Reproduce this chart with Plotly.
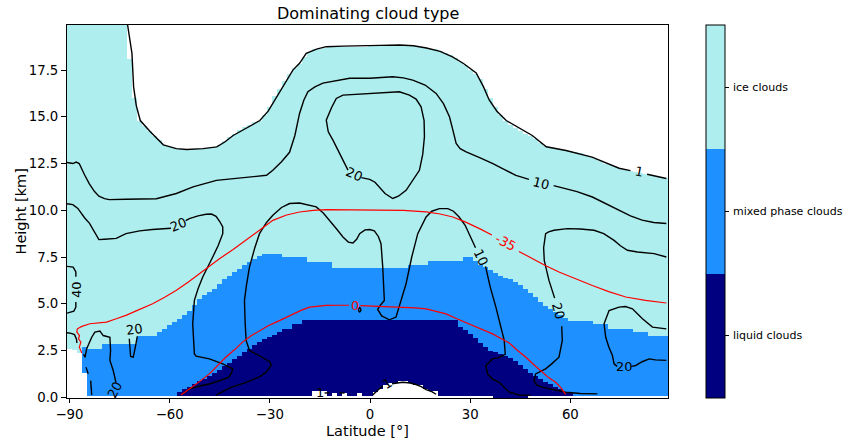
import plotly.graph_objects as go

# ---------------------------------------------------------------------------
# Grid: 1.5 degree latitude columns, centres -90 ... 88.5
# ---------------------------------------------------------------------------
lat_centres = [-90 + 1.5 * i for i in range(120)]
lat_edges = [-90.75 + 1.5 * k for k in range(121)]
Y_BOTTOM, Y_TOP = -0.04, 19.91

# Per-column layer boundaries [km]
# floor: below it no dominating type; liq_top / mix_top / ice_top: upper limits
floor = [
    2.6, 2.55, 2.35, 1.29, 0.09, 0.09, 0.09, 0.09, 0.09, 0.09,        # -90 .. -76.5
    0.09, 0.09, 0.09, 0.09, 0.09, 0.09, 0.09, 0.09, 0.09, 0.09,       # -75 .. -61.5
    0.09, 0.09, 0.09, 0.09, 0.09, 0.09, 0.09, 0.09, 0.09, 0.09,       # -60 .. -46.5
    0.09, 0.09, 0.09, 0.09, 0.09, 0.09, 0.09, 0.09, 0.09, 0.09,       # -45 .. -31.5
    0.09, 0.09, 0.09, 0.09, 0.09, 0.09, 0.09, 0.09, 0.09, 0.32,       # -30 .. -16.5
    0.32, 0.32, 0.09, 0.25, 0.09, 0.25, 0.09, 0.09, 0.25, 0.09,       # -15 .. -1.5
    0.09, 0.27, 0.45, 0.63, 0.75, 0.75, 0.89, 0.89, 0.75, 0.63,       # 0 .. 13.5
    0.63, 0.45, 0.36, 0.36, 0.09, 0.09, 0.09, 0.09, 0.09, 0.09,       # 15 .. 28.5
    0.09, 0.09, 0.09, 0.09, 0.09, -0.04, -0.04, -0.04, -0.04, -0.04,  # 30 .. 43.5
    -0.04, -0.04, 0.09, 0.09, 0.09, 0.09, 0.09, 0.09, 0.09, 0.09,     # 45 .. 58.5
    0.09, 0.09, 0.09, 0.09, 0.09, 0.09, 0.09, 0.09, 0.09, 0.09,       # 60 .. 73.5
    0.09, 0.09, 0.09, 0.09, 0.09, 0.09, 0.09, 0.09, 0.09, 0.09,       # 75 .. 88.5
]
liq_top = [
    0, 0, 0, 0, 0, 0, 0, 0, 0, 0,
    0, 0, 0, 0, 0, 0, 0, 0, 0, 0,
    0, 0, 0.3, 0.45, 0.55, 0.7, 0.85, 1.0, 1.15, 1.3,
    1.45, 1.65, 1.85, 2.05, 2.2, 2.4, 2.6, 2.8, 2.95, 3.1,
    3.2, 3.35, 3.5, 3.66, 3.66, 3.9, 3.9, 4.12, 4.12, 4.12,
    4.12, 4.12, 4.12, 4.12, 4.12, 4.12, 4.12, 4.12, 4.12, 4.12,
    4.12, 4.12, 4.12, 4.12, 4.12, 4.12, 4.12, 4.12, 4.12, 4.12,
    4.12, 4.12, 4.12, 4.12, 4.12, 4.12, 4.12, 4.12, 3.78, 3.6,
    3.4, 3.15, 2.9, 2.7, 2.5, 2.4, 2.3, 2.2, 2.1, 1.95,
    1.75, 1.5, 1.3, 1.15, 0.98, 0.8, 0.71, 0.55, 0.45, 0.3,
    0.25, 0, 0, 0, 0, 0, 0, 0, 0, 0,
    0, 0, 0, 0, 0, 0, 0, 0, 0, 0,
]
mix_top = [
    0, 0, 0, 2.68, 2.6, 2.6, 2.6, 2.85, 2.85, 2.85,
    2.85, 2.85, 2.85, 2.85, 3.3, 3.3, 3.3, 3.3, 3.48, 3.66,
    3.84, 4.02, 4.2, 4.38, 4.64, 4.91, 5.27, 5.45, 5.62, 5.8,
    6.07, 6.3, 6.5, 6.7, 6.88, 7.1, 7.25, 7.4, 7.55, 7.68,
    7.68, 7.68, 7.68, 7.5, 7.5, 7.5, 7.5, 7.5, 7.23, 7.23,
    7.23, 7.23, 7.23, 6.93, 6.93, 6.93, 6.93, 6.93, 6.93, 6.93,
    6.93, 6.93, 6.93, 6.93, 6.93, 6.93, 6.93, 6.93, 7.1, 7.1,
    7.1, 7.1, 7.29, 7.29, 7.29, 7.29, 7.29, 7.29, 7.29, 7.5,
    7.5, 7.3, 7.1, 6.95, 6.8, 6.65, 6.5, 6.4, 6.3, 6.15,
    5.98, 5.8, 5.6, 5.35, 5.1, 4.9, 4.7, 4.55, 4.38, 4.25,
    4.1, 4.1, 4.1, 4.1, 4.1, 3.9, 3.9, 3.9, 3.66, 3.66,
    3.66, 3.66, 3.66, 3.48, 3.48, 3.48, 3.3, 3.3, 3.3, 3.3,
]
ice_top = [
    19.91, 19.91, 19.91, 19.91, 19.91, 19.91, 19.91, 19.91, 19.91, 19.91,
    19.91, 19.91, 18.1, 16.0, 14.8, 14.5, 14.25, 14.0, 13.75, 13.5,
    13.4, 13.35, 13.3, 13.25, 13.25, 13.3, 13.3, 13.35, 13.35, 13.4,
    13.5, 13.7, 13.9, 14.1, 14.3, 14.45, 14.55, 14.7, 14.8, 15.1,
    15.5, 16.1, 16.5, 16.9, 17.3, 17.6, 17.85, 18.2, 18.45, 18.6,
    18.65, 18.7, 18.75, 18.75, 18.75, 18.75, 18.75, 18.75, 18.75, 18.75,
    18.8, 18.8, 18.8, 18.8, 18.8, 18.85, 18.85, 18.85, 18.85, 18.8,
    18.75, 18.7, 18.65, 18.6, 18.5, 18.4, 18.3, 18.15, 17.95, 17.75,
    17.5, 17.3, 17.0, 16.5, 16.0, 15.5, 15.1, 14.8, 14.55, 14.4,
    14.25, 14.1, 13.95, 13.8, 13.6, 13.45, 13.35, 13.3, 13.25, 13.2,
    13.15, 13.1, 13.05, 12.95, 12.85, 12.75, 12.65, 12.5, 12.4, 12.3,
    12.2, 12.15, 12.1, 12.05, 12.0, 11.95, 11.9, 11.85, 11.8, 11.75,
]

cloud_types = ["liquid clouds", "mixed phase clouds", "ice clouds"]
type_values = [1, 2, 3]
type_colours = ["#000080", "#1e90ff", "#afeeee"]

# ---------------------------------------------------------------------------
# Contour lines (lat, height); None breaks the line where a label sits
# ---------------------------------------------------------------------------
cf1_lat = [-72.6, -71.8, -71.3, -70.8, -70.0, -68.8, -65.8, -61.9, -58.0, -54.9, -50.0, -45.9,
           -43.5, -41.0, -37.0, -33.0, -30.5, -28.0, -25.5, -23.1, -21.1, -19.1, -16.0, -13.1,
           -8.0, -3.1, 3.0, 8.8, 13.0, 16.9, 21.0, 24.7, 28.0, 31.8, 34.0, 35.7, 38.0, 40.8,
           44.5, 48.6, 52.8, 58.7, 66.5, 74.6, 78.0, None, 83.0, 88.75]
cf1_h = [19.91, 19.0, 18.4, 16.6, 15.6, 14.8, 14.2, 13.5, 13.3, 13.25, 13.3, 13.39,
         13.65, 14.0, 14.4, 14.8, 15.3, 16.07, 16.8, 17.5, 17.86, 18.39, 18.62, 18.75,
         18.78, 18.78, 18.82, 18.84, 18.8, 18.68, 18.5, 18.2, 17.85, 17.35, 16.6, 15.9, 15.3, 14.8,
         14.4, 14.0, 13.4, 13.2, 12.84, 12.25, 12.12, None, 11.93, 11.7]

cf10_lat = [-90.75, -89.0, -88.0, -87.1, -85.5, -84.1, -82.5, -81.2, -79.5, -78.1, -73.1, -69.1,
            -64.0, -58.0, -53.0, -46.0, -40.0, -35.0, -31.0, -29.1, -26.5, -24.1, -22.5, -21.1,
            -19.8, -18.6, -16.5, -14.1, -10.0, -6.1, 0.0, 2.8, 6.8, 10.0, 12.8, 16.5, 19.8, 22.0,
            23.8, 24.8, 25.8, 27.0, 28.8, 33.0, 36.8, 40.0, 43.7, 47.6, None, 55.0, 58.0, 62.0,
            66.6, 70.6, 74.6, 78.0, 81.5, 85.0, 88.75]
cf10_h = [12.56, 12.5, 12.58, 12.5, 11.9, 11.43, 11.0, 10.75, 10.62, 10.57, 10.59, 10.6,
          10.62, 10.9, 11.25, 11.6, 11.7, 11.8, 11.87, 12.14, 12.6, 13.1, 14.0, 15.18,
          15.9, 16.34, 16.6, 16.8, 16.95, 17.06, 17.06, 17.08, 17.14, 17.08, 16.96, 16.7, 16.25, 15.7,
          15.0, 14.3, 13.57, 13.3, 13.12, 12.8, 12.5, 12.2, 11.87, 11.65, None, 11.32, 11.2, 11.0,
          10.71, 10.35, 10.0, 9.7, 9.47, 9.35, 9.29]

cf20_top_lat = [-2.6, -0.1, 1.5, 2.8, 4.5, 6.8, 8.5, 10.8, 12.8, 14.8, 15.8, 16.3, 16.2, 15.3,
                13.8, 11.8, 8.8, 5.0, 2.8, -2.0, -8.1, -10.1, -11.5, -13.1, -12.5, -11.1, -9.5,
                -7.1, -6.6]
cf20_top_h = [11.75, 11.65, 11.5, 11.25, 10.9, 10.63, 10.75, 11.07, 11.6, 12.14, 13.0, 13.93,
              14.8, 15.53, 15.95, 16.16, 16.34, 16.3, 16.25, 16.2, 16.16, 15.98, 15.5, 14.82,
              14.2, 13.75, 13.2, 12.32, 12.15]

cf20_west_lat = [-90.75, -89.0, -87.5, -85.5, -84.0, -82.5, -81.2, -79.5, -78.1, -76.0, -73.1,
                 -69.0, -65.2, -62.0, -60.1, -59.6, None, -55.2, -54.1, -51.5, -49.1, -47.5,
                 -46.1, -45.0, -44.1, -44.1, -45.5, -47.1, -50.1, -51.5, -52.6, -53.1, -52.8,
                 -52.6, -52.1, -48.1, -44.1, -42.0, -41.1, -41.6, -42.3, -44.0, -46.1, -48.1,
                 -51.0, -54.1, -56.6]
cf20_west_h = [10.35, 10.3, 10.1, 9.6, 9.3, 8.8, 8.43, 8.45, 8.48, 8.5, 8.75,
               8.9, 8.97, 9.0, 9.02, 9.04, None, 9.45, 9.55, 9.7, 9.79, 9.8,
               9.68, 9.4, 9.11, 8.75, 8.1, 7.5, 6.43, 5.8, 5.18, 3.93, 3.0,
               2.32, 2.2, 2.05, 1.79, 1.6, 1.52, 1.25, 1.07, 0.95, 0.82, 0.71,
               0.6, 0.45, 0.12]

cf10_mid_lat = [-46.1, -42.0, -37.1, -33.0, -31.1, -29.6, -30.0, -31.1, -34.0, -36.1, -37.1,
                -37.4, -37.6, -37.0, -36.1, -34.5, -33.1, -31.0, -29.1, -26.5, -24.1, -21.1,
                -18.5, -16.1, -14.0, -12.1, -10.0, -8.1, -6.5, -5.1, -4.0, -3.1, -1.5, -0.1,
                1.3, 2.5, 3.3, 3.8, 4.3, 3.0, 2.3, 3.5, 5.8, 7.8, 9.0, 10.8, 12.5, 14.3, 16.8,
                18.5, 20.8, 23.3, 25.0, 26.7, 28.5, 29.7, 31.6, None, 34.6, 36.0, 37.7, 39.0,
                40.2, 40.5, 38.5, 36.7, 34.7, 35.2, 36.5, 38.7, 40.2, 41.7, 44.7, 48.0]
cf10_mid_h = [0.12, 0.5, 0.8, 1.1, 1.34, 1.7, 1.9, 2.0, 2.3, 2.5, 3.04,
              4.0, 5.18, 6.0, 6.96, 8.0, 8.75, 9.35, 9.73, 10.15, 10.36, 10.39,
              10.3, 10.18, 9.85, 9.46, 9.0, 8.57, 8.3, 8.25, 8.45, 8.75, 8.95, 8.97,
              8.9, 8.6, 8.21, 7.0, 5.18, 4.9, 4.7, 4.35, 4.14, 4.29, 5.0, 6.07, 7.5, 8.75, 9.64,
              9.95, 10.09, 10.09, 9.95, 9.64, 9.2, 8.75, 8.0, None, 7.0, 5.9, 4.82, 3.9,
              3.04, 2.3, 2.12, 2.05, 1.7, 1.25, 1.0, 0.8, 0.55, 0.27, 0.12, 0.1]

cf20_east_lat = [68.1, 63.0, 58.6, 55.0, 51.6, 50.0, 49.1, 49.6, 52.6, 54.5, 56.6, 57.6, 57.6,
                 57.4, None, 55.3, 53.6, 52.2, 52.0, 52.6, 53.5, 55.1, 59.1, 63.0, 67.1, 70.0,
                 73.1, 75.0, 77.1, 80.1, 85.1, 88.75]
cf20_east_h = [0.18, 0.2, 0.27, 0.4, 0.54, 0.65, 0.89, 1.25, 1.52, 1.8, 2.14, 3.04, 3.39,
               3.8, None, 5.3, 6.25, 7.3, 8.0, 8.75, 8.85, 8.93, 9.02, 9.0, 8.93, 8.75,
               8.39, 8.1, 7.86, 7.77, 7.68, 7.5]

cf20_loop_lat = [88.75, 84.6, 81.6, 78.6, 76.5, 74.6, 71.6, 70.1, 70.6, 71.5, 72.6, 73.1, 74.0,
                 None, 78.3, 79.6, 81.5, 83.6, 85.5, 88.75]
cf20_loop_h = [3.66, 3.75, 4.2, 4.73, 4.85, 4.82, 4.64, 3.93, 3.21, 2.7, 2.23, 1.79, 1.65,
               None, 1.65, 1.7, 1.9, 2.05, 2.0, 1.97]

cf40_lat = [-90.75, -89.5, -88.9, -88.1, -88.1, None, -88.1, -88.1, -88.7, -89.5, -90.75]
cf40_h = [7.0, 6.98, 6.96, 6.7, 6.45, None, 5.1, 4.82, 4.6, 4.55, 4.5]

cf20_pole_lat = [-90.75, -89.5, -88.5, -87.9, -87.8, None,
                 -85.8, -85.35, -84.85, -83.35, -82.4, -80.9, -79.9, -77.9, -77.7, -77.9,
                 -76.9, -76.1, None,
                 -85.05, -84.4, None, -83.65, -83.35, None,
                 -72.1, -71.9, -71.7, -70.9, -70.4, -70.1, -69.7]
cf20_pole_h = [3.45, 3.42, 3.35, 3.1, 2.9, None,
               2.3, 2.14, 2.59, 3.21, 3.48, 3.54, 3.3, 3.21, 2.5, 1.97,
               1.43, 0.8, None,
               1.61, 1.25, None, 0.89, 0.12, None,
               3.13, 2.68, 2.18, 2.14, 2.5, 2.86, 3.25]

cf1_low_lat = [-13.6, -12.2, None, -9.1, -7.6, None,
               0.8, 1.8, 2.8, 3.8, None, 6.6, 8.5, 9.8, 12.0, 13.8, 15.5, 16.8, 18.5, 19.8]
cf1_low_h = [0.23, 0.23, None, 0.23, 0.23, None,
             0.12, 0.3, 0.45, 0.6, None, 0.72, 0.78, 0.8, 0.76, 0.68, 0.55, 0.41, 0.3, 0.16]

ring_lat = [-3.5, -3.3, -3.1, -2.9, -2.7, -2.9, -3.1, -3.3, -3.5]
ring_h = [4.68, 4.77, 4.8, 4.77, 4.68, 4.59, 4.56, 4.59, 4.68]

t0_lat = [-56.6, -54.0, -51.0, -48.1, -45.5, -43.2, -40.5, -38.2, -35.5, -33.1, -30.5, -28.1,
          -25.5, -23.1, -20.5, -18.1, -15.5, -13.1, -9.5, -6.3, None, -2.9, 0.0, 5.0, 9.8,
          13.5, 16.8, 20.0, 22.8, 26.0, 29.7, 33.0, 36.7, 39.5, 41.7, 44.2, 46.7, 49.0, 51.6,
          53.5, 55.6, 57.2, 58.6]
t0_h = [0.12, 0.45, 0.85, 1.25, 1.7, 2.14, 2.55, 2.95, 3.3, 3.57, 3.82, 4.02,
        4.25, 4.46, 4.66, 4.82, 4.88, 4.91, 4.92, 4.92, None, 4.9, 4.88, 4.86, 4.82,
        4.78, 4.73, 4.6, 4.46, 4.2, 3.93, 3.65, 3.39, 3.12, 2.9, 2.5, 2.14, 1.75, 1.34,
        1.05, 0.8, 0.5, 0.15]

t35_lat = [-86.3, -87.05, -86.6, -87.3, -87.0, -87.8, -87.65, -86.3, -83.9, -79.9, -78.9, -76.0,
           -73.1, -69.0, -65.1, -61.5, -58.1, -54.5, -51.1, -48.0, -45.1, -41.0, -37.1, -33.0,
           -29.1, -25.0, -21.1, -17.0, -13.1, -5.0, 2.8, 10.0, 16.8, 21.0, 24.8, 28.5, 32.8,
           36.5, None, 44.6, 48.6, 52.5, 56.6, 61.5, 66.6, 71.5, 76.6, 82.5, 88.75]
t35_h = [2.36, 2.68, 2.95, 3.13, 3.3, 3.48, 3.66, 3.79, 3.93, 3.98, 4.02, 4.2,
         4.38, 4.7, 5.0, 5.35, 5.71, 6.15, 6.61, 7.0, 7.41, 7.9, 8.39, 8.95,
         9.46, 9.75, 9.91, 10.0, 10.04, 10.04, 10.04, 10.0, 9.91, 9.8, 9.64, 9.38, 9.02,
         8.68, None, 7.8, 7.41, 7.05, 6.7, 6.33, 5.98, 5.65, 5.36, 5.18, 5.04]

# Inline contour labels: text, lat, height, rotation, colour
contour_labels = [
    ("1", 80.6, 12.05, 11, "black"),
    ("10", 51.3, 11.45, 14, "black"),
    ("20", -4.6, 11.92, 24, "black"),
    ("20", -57.3, 9.25, -22, "black"),
    ("10", 33.1, 7.45, 64, "black"),
    ("20", 56.5, 4.6, 74, "black"),
    ("20", 76.1, 1.63, 0, "black"),
    ("40", -88.1, 5.78, -90, "black"),
    ("20", -70.6, 3.63, -8, "black"),
    ("20", -76.4, 0.43, -62, "black"),
    ("1", -15.1, 0.25, 0, "black"),
    ("1", 5.2, 0.74, -30, "black"),
    ("-35", 40.6, 8.28, 28, "red"),
    ("0", -4.6, 4.92, 0, "red"),
]

# ---------------------------------------------------------------------------
# Build the categorical field on the boundary heights
# ---------------------------------------------------------------------------
levels = {Y_BOTTOM, Y_TOP}
for arr in (floor, liq_top, mix_top, ice_top):
    levels.update(v for v in arr if Y_BOTTOM <= v <= Y_TOP)
y_edges = sorted(levels)

z = []
for k in range(len(y_edges) - 1):
    mid = 0.5 * (y_edges[k] + y_edges[k + 1])
    row = []
    for i in range(len(lat_centres)):
        if mid < floor[i] or mid >= ice_top[i]:
            row.append(None)
        elif mid < liq_top[i]:
            row.append(type_values[0])
        elif mid < mix_top[i]:
            row.append(type_values[1])
        else:
            row.append(type_values[2])
    z.append(row)

colourscale = [
    [0.0, type_colours[0]], [1 / 3, type_colours[0]],
    [1 / 3, type_colours[1]], [2 / 3, type_colours[1]],
    [2 / 3, type_colours[2]], [1.0, type_colours[2]],
]

FONT = "DejaVu Sans"
PLOT_W, PLOT_H = 601, 373          # plot area in pixels
CBAR_X0 = 706 - 67                 # colour bar left edge, px from plot left

fig = go.Figure()
fig.add_trace(go.Heatmap(
    x=lat_edges, y=y_edges, z=z,
    zmin=0.5, zmax=3.5, colorscale=colourscale, zsmooth=False,
    hoverinfo="skip",
    colorbar=dict(
        x=CBAR_X0 / PLOT_W, xanchor="left", xpad=0, ypad=0,
        y=0.5, yanchor="middle", len=1.0, lenmode="fraction",
        thickness=19, thicknessmode="pixels",
        outlinecolor="black", outlinewidth=1,
        tickvals=type_values, ticktext=["", "", ""],
        ticks="outside", ticklen=4, tickcolor="black",
        tickfont=dict(family=FONT, size=2, color="black"),
    ),
))

# Colour bar category names
for val, name in zip(type_values, cloud_types):
    fig.add_annotation(x=(CBAR_X0 + 19 + 6) / PLOT_W, y=(val - 0.5) / 3,
                       xref="paper", yref="paper", text=name, showarrow=False,
                       font=dict(family=FONT, size=11, color="black"),
                       xanchor="left", yanchor="middle")

black_lines = [
    (cf1_lat, cf1_h), (cf10_lat, cf10_h), (cf20_top_lat, cf20_top_h),
    (cf20_west_lat, cf20_west_h), (cf10_mid_lat, cf10_mid_h),
    (cf20_east_lat, cf20_east_h), (cf20_loop_lat, cf20_loop_h),
    (cf40_lat, cf40_h), (cf20_pole_lat, cf20_pole_h), (cf1_low_lat, cf1_low_h),
    (ring_lat, ring_h),
]
for xs, ys in black_lines:
    fig.add_trace(go.Scatter(x=xs, y=ys, mode="lines", hoverinfo="skip",
                             line=dict(color="black", width=1.4), showlegend=False))
for xs, ys in [(t0_lat, t0_h), (t35_lat, t35_h)]:
    fig.add_trace(go.Scatter(x=xs, y=ys, mode="lines", hoverinfo="skip",
                             line=dict(color="red", width=1.2), showlegend=False))

for text, lx, ly, ang, col in contour_labels:
    fig.add_annotation(x=lx, y=ly, xref="x", yref="y", text=text, showarrow=False,
                       textangle=ang, font=dict(family=FONT, size=13, color=col),
                       xanchor="center", yanchor="middle")

# Title and axis titles
fig.add_annotation(x=0.5, y=1 + 11 / PLOT_H, xref="paper", yref="paper",
                   text="Dominating cloud type", showarrow=False,
                   font=dict(family=FONT, size=16, color="black"),
                   xanchor="center", yanchor="middle")
fig.add_annotation(x=0.5, y=-33 / PLOT_H, xref="paper", yref="paper",
                   text="Latitude [°]", showarrow=False,
                   font=dict(family=FONT, size=14.5, color="black"),
                   xanchor="center", yanchor="middle")
fig.add_annotation(x=-47 / PLOT_W, y=0.5, xref="paper", yref="paper",
                   text="Height [km]", showarrow=False, textangle=-90,
                   font=dict(family=FONT, size=14.5, color="black"),
                   xanchor="center", yanchor="middle")

x_ticks = [-90, -60, -30, 0, 30, 60]
x_tick_text = ["\u221290", "\u221260", "\u221230", "0", "30", "60"]
y_ticks = [0, 2.5, 5, 7.5, 10, 12.5, 15, 17.5]
y_tick_text = ["0.0", "2.5", "5.0", "7.5", "10.0", "12.5", "15.0", "17.5"]

axis_common = dict(showgrid=False, zeroline=False, showline=True, linecolor="black",
                   linewidth=1, mirror=True, ticks="outside", ticklen=5, tickwidth=1,
                   tickcolor="black", tickfont=dict(family=FONT, size=13.3, color="black"),
                   automargin=False)
fig.update_xaxes(range=[-90.75, 89.25], tickvals=x_ticks, ticktext=x_tick_text,
                 ticklen=4, **{k: v for k, v in axis_common.items() if k != "ticklen"})
fig.update_yaxes(range=[Y_BOTTOM, Y_TOP], tickvals=y_ticks, ticktext=y_tick_text, **axis_common)

fig.update_layout(
    width=848, height=439,
    margin=dict(l=67, r=180, t=25, b=41),
    plot_bgcolor="white", paper_bgcolor="white",
    font=dict(family=FONT, color="black"),
    showlegend=False,
)

fig.write_html("out.html")
